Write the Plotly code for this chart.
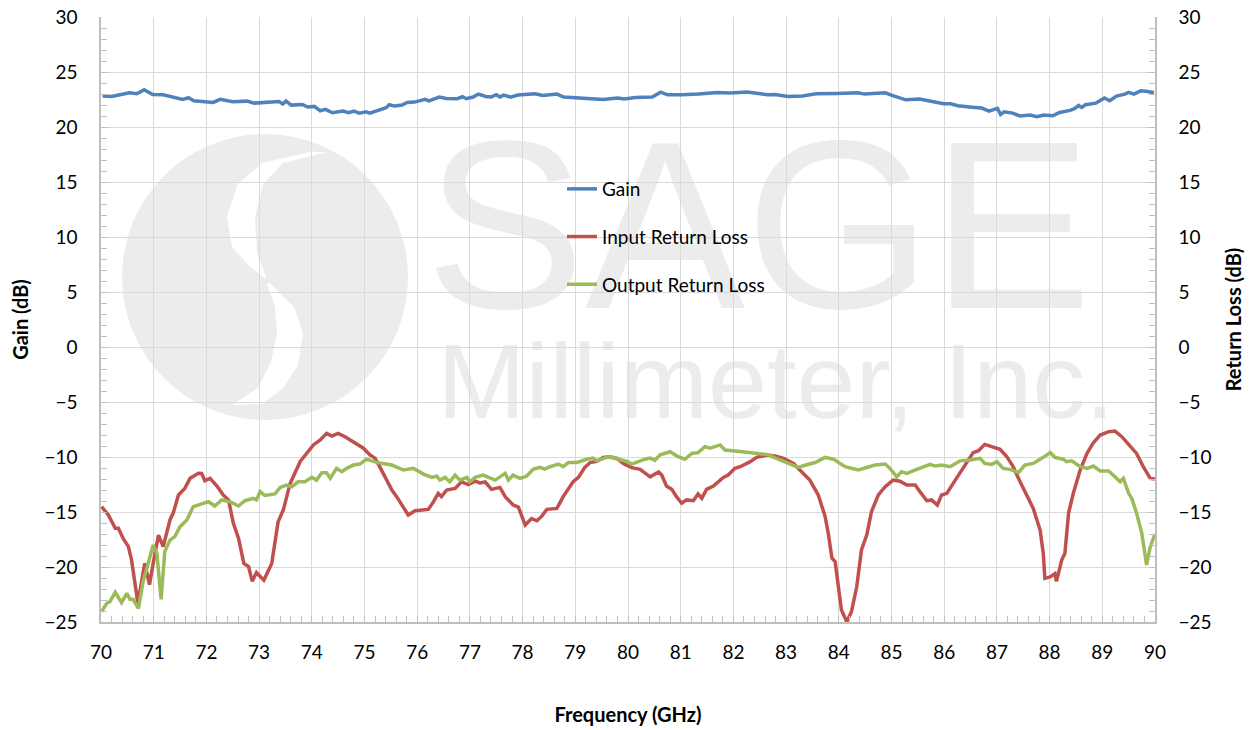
import plotly.graph_objects as go

# ---------------- data ----------------
gain_f = [70.03,70.20,70.54,70.68,70.82,70.98,71.18,71.35,71.55,71.66,
          71.76,72.13,72.26,72.50,72.77,72.91,73.38,73.45,73.51,73.61,
          73.82,73.92,74.05,74.16,74.26,74.39,74.59,74.70,74.80,74.90,
          75.03,75.10,75.27,75.41,75.47,75.57,75.71,75.81,75.95,76.15,
          76.22,76.42,76.55,76.76,76.86,76.93,77.06,77.16,77.30,77.40,
          77.50,77.57,77.64,77.77,77.91,78.24,78.38,78.65,78.78,79.26,
          79.53,79.80,79.93,80.14,80.34,
          80.46,80.62,80.75,81.01,81.34,81.70,81.93,82.26,82.45,82.65,
          82.78,83.04,83.31,83.57,83.96,84.36,84.49,84.75,84.88,85.01,
          85.27,85.53,85.80,85.99,86.12,86.26,86.58,86.71,86.85,87.01,
          87.07,87.14,87.30,87.44,87.63,87.76,87.89,88.06,88.19,88.39,
          88.48,88.55,88.61,88.68,88.88,89.04,89.14,89.27,89.43,89.50,
          89.60,89.73,89.86,89.98]
gain_db = [22.82,22.79,23.12,23.03,23.39,22.97,22.94,22.76,22.52,22.67,
           22.39,22.24,22.52,22.30,22.36,22.18,22.33,22.09,22.36,22.00,
           22.06,21.82,21.88,21.48,21.61,21.30,21.45,21.30,21.45,21.27,
           21.39,21.27,21.58,21.76,22.03,21.91,22.00,22.24,22.27,22.52,
           22.39,22.73,22.61,22.58,22.76,22.58,22.73,23.00,22.79,22.73,
           22.94,22.73,22.91,22.73,22.91,23.03,22.88,23.00,22.73,22.64,
           22.52,22.64,22.55,22.70,22.76,
           22.73,23.18,22.94,22.94,23.00,23.15,23.09,23.18,23.06,22.94,
           22.97,22.79,22.82,23.03,23.06,23.12,23.00,23.03,23.12,22.88,
           22.48,22.55,22.33,22.12,22.12,21.94,21.79,21.73,21.45,21.70,
           21.15,21.39,21.27,21.00,21.09,20.94,21.09,21.03,21.33,21.52,
           21.70,21.97,21.79,22.03,22.18,22.64,22.39,22.82,23.00,23.15,
           23.00,23.30,23.24,23.12]

irl_f = [70.01,70.14,70.27,70.33,70.42,70.52,70.58,70.65,70.70,70.83,
         70.92,70.99,71.09,71.18,71.26,71.31,71.37,71.47,71.59,71.69,
         71.85,71.91,71.97,72.07,72.20,72.32,72.42,72.51,72.61,72.71,
         72.80,72.87,72.95,73.09,73.24,73.36,73.46,73.59,73.78,73.93,
         74.03,74.16,74.28,74.38,74.50,74.63,74.85,74.98,75.10,75.20,
         75.29,75.39,75.52,75.61,75.74,75.83,75.96,76.21,76.31,76.40,
         76.46,76.56,76.72,76.84,76.97,
         77.10,77.19,77.29,77.41,77.57,77.67,77.82,77.92,77.98,78.05,
         78.17,78.27,78.36,78.46,78.65,78.77,78.96,79.06,79.18,79.28,
         79.41,79.53,79.66,79.79,79.91,80.07,80.23,80.32,80.42,80.58,
         80.64,80.73,80.83,80.92,81.02,81.11,81.24,81.33,81.40,81.49,
         81.62,81.81,81.90,82.03,82.13,82.32,82.44,82.63,82.79,82.95,
         83.14,
         83.26,83.45,83.61,83.74,83.80,83.87,83.93,83.99,84.05,84.15,
         84.24,84.34,84.43,84.53,84.62,84.75,84.88,85.03,85.16,85.29,
         85.45,85.54,85.67,85.76,85.87,85.95,86.05,86.17,86.30,86.43,
         86.55,86.65,86.77,86.90,87.06,87.19,87.31,87.44,87.57,87.69,
         87.82,87.88,87.91,88.01,88.10,88.13,88.23,88.29,88.36,88.45,
         88.58,88.71,88.83,88.96,89.12,89.24,89.37,89.53,89.65,89.78,
         89.91,90.00]
irl_db = [-14.52,-15.27,-16.48,-16.48,-17.40,-18.15,-19.36,-21.80,-23.30,-19.67,
          -21.60,-19.67,-17.10,-18.15,-16.60,-15.70,-15.10,-13.45,-12.85,-11.94,
          -11.48,-11.50,-12.15,-11.94,-12.64,-13.45,-13.90,-16.00,-17.40,-19.67,
          -19.97,-21.30,-20.50,-21.20,-19.67,-15.90,-14.80,-12.40,-10.40,-9.50,
          -8.90,-8.45,-7.85,-8.10,-7.85,-8.15,-8.85,-9.20,-9.80,-10.10,
          -10.90,-11.80,-13.00,-13.60,-14.67,-15.27,-14.88,-14.76,-14.06,-13.30,
          -13.60,-13.00,-12.85,-12.25,-12.50,
          -12.20,-12.36,-12.27,-12.94,-12.76,-13.60,-14.36,-14.55,-15.27,-16.18,
          -15.60,-15.80,-15.40,-14.76,-14.67,-13.60,-12.25,-11.85,-10.94,-10.50,
          -10.40,-10.03,-9.97,-10.12,-10.58,-10.97,-11.12,-11.40,-11.80,-11.36,
          -11.64,-12.64,-12.94,-13.60,-14.20,-13.90,-13.97,-13.36,-13.76,-12.94,
          -12.64,-11.85,-11.64,-11.03,-10.88,-10.42,-10.03,-9.82,-9.90,-10.12,
          -10.58,
          -11.18,-12.10,-13.45,-15.40,-16.94,-19.20,-19.50,-21.80,-23.90,-24.97,
          -24.06,-21.80,-18.45,-17.10,-14.97,-13.45,-12.70,-12.10,-12.20,-12.55,
          -12.55,-13.15,-13.97,-13.90,-14.36,-13.45,-13.30,-12.40,-11.48,-10.58,
          -9.60,-9.42,-8.85,-9.06,-9.30,-9.97,-10.90,-12.25,-13.60,-14.67,
          -16.64,-18.76,-21.03,-20.90,-20.60,-21.30,-19.36,-18.76,-15.10,-13.30,
          -11.18,-9.67,-8.70,-8.00,-7.70,-7.64,-8.15,-9.06,-9.67,-10.90,
          -11.94,-12.00]

orl_f = [70.01,70.11,70.17,70.27,70.39,70.49,70.55,70.61,70.71,70.80,
         70.93,70.99,71.06,71.14,71.21,71.31,71.40,71.50,71.63,71.75,
         71.88,72.04,72.16,72.29,72.45,72.61,72.73,72.89,72.95,73.02,
         73.11,73.30,73.40,73.52,73.62,73.74,73.87,74.00,74.09,74.19,
         74.28,74.35,74.47,74.57,74.66,74.79,74.91,75.04,75.17,75.29,
         75.52,75.74,75.93,76.12,76.28,76.37,76.43,76.53,76.62,76.72,
         76.81,76.94,77.00,77.10,77.25,77.48,77.67,77.73,77.82,77.95,
         78.08,78.20,78.33,78.42,78.52,78.68,78.77,78.87,79.03,79.22,
         79.34,79.41,79.63,79.79,79.98,80.07,80.20,80.32,80.42,80.51,
         80.61,80.80,80.95,81.08,81.21,81.33,81.46,81.56,81.75,81.84,
         82.13,82.44,82.66,82.85,83.23,83.39,83.55,83.74,83.90,84.12,
         84.37,84.69,84.88,84.97,85.10,85.19,85.29,85.48,85.60,85.73,
         85.83,85.95,86.11,86.30,86.49,86.68,86.77,86.90,87.00,87.12,
         87.25,87.41,87.53,87.69,87.88,88.01,88.10,88.26,88.32,88.42,
         88.58,88.71,88.83,88.96,89.12,89.24,89.34,89.40,89.50,89.56,
         89.65,89.75,89.84,89.91,90.00]
orl_db = [-24.06,-23.30,-23.15,-22.30,-23.24,-22.40,-22.94,-22.94,-23.76,-21.30,
          -19.06,-18.00,-18.76,-22.94,-18.60,-17.55,-17.24,-16.33,-15.73,-14.52,
          -14.30,-14.06,-14.45,-13.90,-14.06,-14.45,-13.97,-13.76,-13.90,-13.15,
          -13.50,-13.36,-12.76,-12.55,-12.70,-12.25,-12.25,-11.85,-12.10,-11.42,
          -11.42,-11.94,-11.03,-11.33,-11.03,-10.73,-10.64,-10.20,-10.40,-10.55,
          -10.73,-11.18,-11.03,-11.55,-11.85,-11.73,-12.10,-11.85,-12.25,-11.64,
          -12.10,-11.85,-12.25,-11.85,-11.64,-12.10,-11.48,-12.10,-11.64,-11.94,
          -11.73,-11.12,-10.94,-11.10,-10.88,-10.64,-10.88,-10.50,-10.50,-10.20,
          -10.10,-10.35,-9.97,-10.20,-10.40,-10.64,-10.40,-10.20,-10.10,-10.30,
          -9.80,-9.52,-9.97,-10.20,-9.67,-9.60,-9.06,-9.20,-8.90,-9.36,
          -9.50,-9.70,-9.80,-10.20,-10.94,-10.70,-10.50,-10.03,-10.20,-10.88,
          -11.18,-10.73,-10.64,-11.03,-11.80,-11.33,-11.48,-11.12,-10.88,-10.67,
          -10.82,-10.73,-10.88,-10.35,-10.27,-10.12,-10.58,-10.67,-10.43,-11.03,
          -11.12,-11.42,-10.73,-10.58,-10.03,-9.60,-10.03,-10.20,-10.43,-10.35,
          -10.88,-11.03,-10.82,-11.27,-11.27,-11.80,-12.25,-11.94,-13.30,-13.76,
          -15.10,-16.94,-19.82,-18.15,-17.00]

y_ticks = [-25, -20, -15, -10, -5, 0, 5, 10, 15, 20, 25, 30]
x_ticks = list(range(70, 91))

# ---------------- styling ----------------
FONT = "Lato, 'Open Sans', sans-serif"
GRID = "#d9d9d9"
AXIS = "#bfbfbf"
WM = "#ececec"
OFF = 8                      # page body margin of the html page
PL, PT, PW, PH = 101, 17, 1054, 605   # wanted plot box on the page
W, H = 1254 - OFF, 730 - OFF
L, T = PL - OFF, PT - OFF
R = W - L - PW
B = H - T - PH


def pp(px, py):
    """page pixel -> paper coordinates (for decorative watermark only)"""
    return (px - PL) / PW, (PT + PH - py) / PH


def poly(points):
    parts = []
    for i, (a, b) in enumerate(points):
        x, y = pp(a, b)
        parts.append(("M" if i == 0 else "L") + f"{x:.4f},{y:.4f}")
    return " ".join(parts) + " Z"


fig = go.Figure()
fig.add_trace(go.Scatter(x=gain_f, y=gain_db, name="Gain", mode="lines",
                         line=dict(color="#4F81BD", width=3.5), legendgroup="a"))
fig.add_trace(go.Scatter(x=irl_f, y=irl_db, name="Input Return Loss", mode="lines",
                         line=dict(color="#C0504D", width=3.5), legendgroup="b", yaxis="y2"))
fig.add_trace(go.Scatter(x=orl_f, y=orl_db, name="Output Return Loss", mode="lines",
                         line=dict(color="#9BBB59", width=3.5), legendgroup="c", yaxis="y2"))

shapes = []
# watermark logo
cx0, cy0 = pp(122, 134)
cx1, cy1 = pp(408, 420)
shapes.append(dict(type="circle", xref="paper", yref="paper", x0=cx0, y0=cy1, x1=cx1, y1=cy0,
                   fillcolor=WM, line=dict(width=0), layer="below"))
upper = [(310, 152), (262, 163), (238, 184), (227, 217), (232, 247), (250, 267), (267, 280),
         (257, 253), (255, 217), (263, 184), (283, 163), (327, 152)]
lower = [(267, 283), (275, 307), (277, 333), (271, 362), (258, 388), (232, 405),
         (262, 404), (283, 388), (298, 365), (303, 333), (294, 307), (270, 283)]
for pts in (upper, lower):
    shapes.append(dict(type="path", xref="paper", yref="paper", path=poly(pts),
                       fillcolor="white", line=dict(width=0), layer="below"))
# watermark words
sx0, sy0 = pp(445, 113)
sx1, sy1 = pp(1072, 290)
shapes.append(dict(type="rect", xref="paper", yref="paper", x0=sx0, y0=sy1, x1=sx1, y1=sy0,
                   line=dict(width=0), fillcolor="rgba(0,0,0,0)", layer="below",
                   label=dict(text="SAGE", textposition="middle center",
                              font=dict(family="Liberation Sans, Arial", size=240, color=WM))))
mx0, my0 = pp(441, 336)
mx1, my1 = pp(1111, 406)
shapes.append(dict(type="rect", xref="paper", yref="paper", x0=mx0, y0=my1, x1=mx1, y1=my0,
                   line=dict(width=0), fillcolor="rgba(0,0,0,0)", layer="below",
                   label=dict(text="Millimeter, Inc.", textposition="middle center",
                              font=dict(family="Liberation Sans, Arial", size=106, color=WM))))

axis_common = dict(
    range=[-25, 30.01], tickvals=y_ticks, zeroline=False, automargin=False,
    showline=True, linecolor=AXIS, linewidth=1.5, ticks="inside", ticklen=6,
    tickcolor=AXIS, tickfont=dict(family=FONT, size=19, color="black"),
    minor=dict(dtick=1, ticks="inside", ticklen=6, tickcolor=AXIS, showgrid=False),
    ticklabelstandoff=18, ticklabeloverflow="allow", fixedrange=True,
)

fig.update_layout(
    width=W, height=H,
    margin=dict(l=L, r=R, t=T, b=B, autoexpand=False),
    paper_bgcolor="white", plot_bgcolor="white",
    font=dict(family=FONT, color="black"),
    shapes=shapes,
    xaxis=dict(range=[70, 90], tickvals=x_ticks, showgrid=True, gridcolor=GRID, gridwidth=1.3,
               zeroline=False, showline=True, linecolor=AXIS, linewidth=1.5, automargin=False,
               ticks="inside", ticklen=6, tickcolor=AXIS, fixedrange=True,
               minor=dict(dtick=0.2, ticks="inside", ticklen=6, tickcolor=AXIS, showgrid=False),
               tickfont=dict(family=FONT, size=19, color="black"), ticklabelstandoff=12,
               ticklabeloverflow="allow",
               title=dict(text="<b>Frequency (GHz)</b>", font=dict(family=FONT, size=20), standoff=46)),
    yaxis=dict(**axis_common, side="left", showgrid=True, gridcolor=GRID, gridwidth=1.3,
               title=dict(text="<b>Gain (dB)</b>", font=dict(family=FONT, size=20), standoff=16)),
    yaxis2=dict(**axis_common, side="right", overlaying="y", showgrid=False,
                title=dict(text="<b>Return Loss (dB)</b>", font=dict(family=FONT, size=20), standoff=16)),
    legend=dict(x=(562 - PL) / PW, y=pp(0, 170)[1], xanchor="left", yanchor="top",
                bgcolor="rgba(0,0,0,0)", borderwidth=0,
                font=dict(family=FONT, size=19, color="black"), tracegroupgap=20),
    showlegend=True,
)

fig.write_html("out.html")
